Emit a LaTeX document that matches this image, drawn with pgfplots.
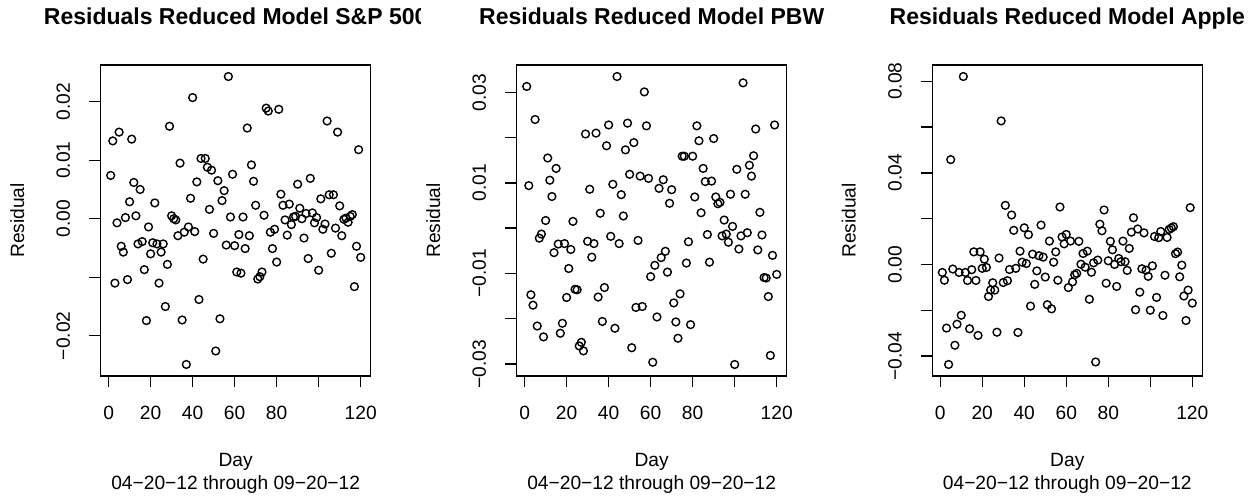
\documentclass[border=0pt]{standalone}
\usepackage{pgfplots}
\pgfplotsset{compat=1.18}
\usepackage{pgfplotstable}
\usepackage{fontspec}
\setmainfont{Liberation Sans}

\pgfplotstableread{
d r
1 0.0074
2 0.0133
3 -0.0110
4 -0.0007
5 0.0148
6 -0.0047
7 -0.0057
8 0.0002
9 -0.0104
10 0.0029
11 0.0136
12 0.0062
13 0.0005
14 -0.0043
15 0.0050
16 -0.0039
17 -0.0087
18 -0.0174
19 -0.0014
20 -0.0060
21 -0.0041
22 0.0027
23 -0.0043
24 -0.0110
25 -0.0057
26 -0.0043
27 -0.0150
28 -0.0078
29 0.0158
30 0.0005
31 0.0000
32 -0.0002
33 -0.0029
34 0.0095
35 -0.0173
36 -0.0023
37 -0.0249
38 -0.0014
39 0.0035
40 0.0207
41 -0.0022
42 0.0063
43 -0.0138
44 0.0103
45 -0.0069
46 0.0103
47 0.0088
48 0.0016
49 0.0083
50 -0.0025
51 -0.0226
52 0.0065
53 -0.0171
54 0.0031
55 0.0048
56 -0.0045
57 0.0243
58 0.0003
59 0.0076
60 -0.0046
61 -0.0091
62 -0.0027
63 -0.0093
64 0.0003
65 -0.0051
66 0.0155
67 -0.0029
68 0.0092
69 0.0064
70 0.0023
71 -0.0103
72 -0.0099
73 -0.0091
74 0.0006
75 0.0189
76 0.0184
77 -0.0023
78 -0.0051
79 -0.0018
80 -0.0074
81 0.0187
82 0.0042
83 0.0023
84 -0.0002
85 -0.0028
86 0.0025
87 -0.0010
88 0.0003
89 0.0004
90 0.0059
91 0.0018
92 0.0000
93 -0.0033
94 0.0009
95 -0.0068
96 0.0069
97 0.0010
98 -0.0007
99 0.0002
100 -0.0088
101 0.0034
102 -0.0018
103 -0.0009
104 0.0167
105 0.0041
106 -0.0059
107 0.0041
108 -0.0016
109 0.0148
110 0.0022
111 -0.0029
112 -0.0001
113 0.0001
114 -0.0006
115 0.0004
116 0.0007
117 -0.0116
118 -0.0047
119 0.0118
120 -0.0066
}\spdata

\pgfplotstableread{
d r
1 0.0313
2 0.0094
3 -0.0147
4 -0.0170
5 0.0240
6 -0.0216
7 -0.0022
8 -0.0013
9 -0.0240
10 0.0017
11 0.0155
12 0.0106
13 0.0070
14 -0.0054
15 0.0132
16 -0.0035
17 -0.0232
18 -0.0210
19 -0.0034
20 -0.0153
21 -0.0089
22 -0.0047
23 0.0015
24 -0.0135
25 -0.0136
26 -0.0260
27 -0.0252
28 -0.0271
29 0.0208
30 -0.0029
31 0.0086
32 -0.0064
33 -0.0034
34 0.0210
35 -0.0152
36 0.0033
37 -0.0206
38 -0.0131
39 0.0182
40 0.0228
41 -0.0018
42 0.0097
43 -0.0221
44 0.0335
45 -0.0034
46 0.0074
47 0.0027
48 0.0173
49 0.0232
50 0.0119
51 -0.0264
52 0.0189
53 -0.0175
54 -0.0027
55 0.0115
56 -0.0173
57 0.0301
58 0.0226
59 0.0110
60 -0.0107
61 -0.0296
62 -0.0082
63 -0.0196
64 0.0088
65 -0.0065
66 0.0107
67 -0.0051
68 -0.0097
69 0.0055
70 0.0085
71 -0.0165
72 -0.0207
73 -0.0243
74 -0.0145
75 0.0159
76 0.0159
77 -0.0077
78 -0.0030
79 -0.0213
80 0.0159
81 0.0069
82 0.0226
83 0.0193
84 0.0034
85 0.0132
86 0.0103
87 -0.0014
88 -0.0075
89 0.0104
90 0.0198
91 0.0069
92 0.0054
93 0.0057
94 -0.0017
95 0.0018
96 -0.0013
97 -0.0031
98 0.0075
99 0.0004
100 -0.0301
101 0.0130
102 -0.0046
103 -0.0017
104 0.0321
105 0.0075
106 -0.0010
107 0.0139
108 0.0115
109 0.0160
110 0.0219
111 -0.0048
112 0.0035
113 -0.0015
114 -0.0109
115 -0.0110
116 -0.0151
117 -0.0281
118 -0.0060
119 0.0228
120 -0.0102
}\pbwdata

\pgfplotstableread{
d r
1 -0.0035
2 -0.0069
3 -0.0278
4 -0.0437
5 0.0458
6 -0.0020
7 -0.0353
8 -0.0261
9 -0.0035
10 -0.0222
11 0.0821
12 -0.0035
13 -0.0070
14 -0.0281
15 -0.0023
16 0.0055
17 -0.0070
18 -0.0310
19 0.0055
20 -0.0017
21 0.0023
22 -0.0013
23 -0.0140
24 -0.0112
25 -0.0080
26 -0.0112
27 -0.0296
28 0.0028
29 0.0627
30 -0.0079
31 0.0258
32 -0.0071
33 -0.0022
34 0.0216
35 0.0149
36 -0.0017
37 -0.0297
38 0.0058
39 0.0010
40 0.0160
41 0.0004
42 0.0130
43 -0.0182
44 0.0045
45 -0.0087
46 -0.0028
47 0.0038
48 0.0172
49 0.0032
50 -0.0055
51 -0.0176
52 0.0102
53 -0.0194
54 0.0010
55 0.0055
56 -0.0069
57 0.0251
58 0.0120
59 0.0090
60 0.0131
61 -0.0101
62 0.0102
63 -0.0076
64 -0.0045
65 -0.0039
66 0.0101
67 0.0001
68 0.0048
69 -0.0012
70 0.0058
71 -0.0152
72 -0.0034
73 0.0007
74 -0.0426
75 0.0019
76 0.0176
77 0.0147
78 0.0238
79 -0.0082
80 0.0016
81 0.0101
82 0.0064
83 0.0000
84 -0.0096
85 0.0026
86 0.0012
87 0.0102
88 0.0012
89 -0.0026
90 0.0070
91 0.0141
92 0.0204
93 -0.0198
94 0.0155
95 -0.0121
96 -0.0019
97 0.0138
98 -0.0025
99 -0.0052
100 -0.0200
101 -0.0006
102 0.0122
103 -0.0144
104 0.0117
105 0.0144
106 -0.0223
107 -0.0047
108 0.0118
109 0.0153
110 0.0159
111 0.0165
112 0.0047
113 0.0054
114 -0.0054
115 -0.0003
116 -0.0138
117 -0.0245
118 -0.0112
119 0.0248
120 -0.0169
}\appledata

\newcommand{\basefont}{\fontsize{9.6pt}{11.5pt}\selectfont}
\newcommand{\titlefont}{\fontsize{11.5pt}{13.8pt}\selectfont\bfseries}

\pgfplotsset{
  rstyle/.style={
    scale only axis, width=135pt, height=155.5pt, anchor=south west,
    xmin=-3.76, xmax=124.76,
    xtick={0,20,40,60,80,100,120},
    xticklabels={0,20,40,60,80,,120},
    scaled x ticks=false, scaled y ticks=false,
    axis line style={line width=0.7pt},
    tick align=outside, xtick pos=left, ytick pos=left,
    major tick length=5.7pt,
    every tick/.style={black, line width=0.7pt},
    tick label style={font=\basefont},
    xticklabel style={anchor=center, yshift=-12.9pt},
    yticklabel style={rotate=90, anchor=center, xshift=0pt, yshift=13pt},
    clip=false,
  },
  rmarks/.style={only marks, mark=o, mark size=1.95pt, black, mark options={line width=0.7pt}},
}

\begin{document}
\begin{tikzpicture}
\useasboundingbox (0,0) rectangle (630pt,249pt);
\coordinate (tl) at (0,236.5pt);

\begin{axis}[rstyle, name=ax1, at={(50.35pt,61pt)},
  ymin=-0.02687, ymax=0.02627,
  ytick={-0.02,-0.01,0,0.01,0.02},
  yticklabels={−0.02,,0.00,0.01,0.02}]
\addplot[rmarks] table[x=d,y=r]{\spdata};
\end{axis}

\begin{axis}[rstyle, name=ax2, at={(258.35pt,61pt)},
  ymin=-0.03264, ymax=0.03604,
  ytick={-0.03,-0.02,-0.01,0,0.01,0.02,0.03},
  yticklabels={−0.03,,−0.01,,0.01,,0.03}]
\addplot[rmarks] table[x=d,y=r]{\pbwdata};
\end{axis}

\begin{axis}[rstyle, name=ax3, at={(466.15pt,61pt)},
  ymin=-0.04873, ymax=0.08713,
  ytick={-0.04,-0.02,0,0.02,0.04,0.06,0.08},
  yticklabels={−0.04,,0.00,,0.04,,0.08}]
\addplot[rmarks] table[x=d,y=r]{\appledata};
\end{axis}

\begin{scope}
\clip (0,0) rectangle (210pt,249pt);
\node[font=\titlefont, anchor=base, inner sep=0pt] at (ax1.north |- tl) {Residuals Reduced Model S\&P 500};
\end{scope}
\node[font=\titlefont, anchor=base, inner sep=0pt] at (ax2.north |- tl) {Residuals Reduced Model PBW};
\node[font=\titlefont, anchor=base, inner sep=0pt] at (ax3.north |- tl) {Residuals Reduced Model Apple};

\foreach \a in {ax1,ax2,ax3}{
  \node[font=\basefont, anchor=base, inner sep=0pt] at ([yshift=-45.3pt]\a.south) {Day};
  \node[font=\basefont, anchor=base, inner sep=0pt] at ([yshift=-57pt]\a.south) {04−20−12 through 09−20−12};
  \node[font=\basefont, anchor=base, inner sep=0pt, rotate=90] at ([xshift=-38.3pt]\a.west) {Residual};
}
\end{tikzpicture}
\end{document}
